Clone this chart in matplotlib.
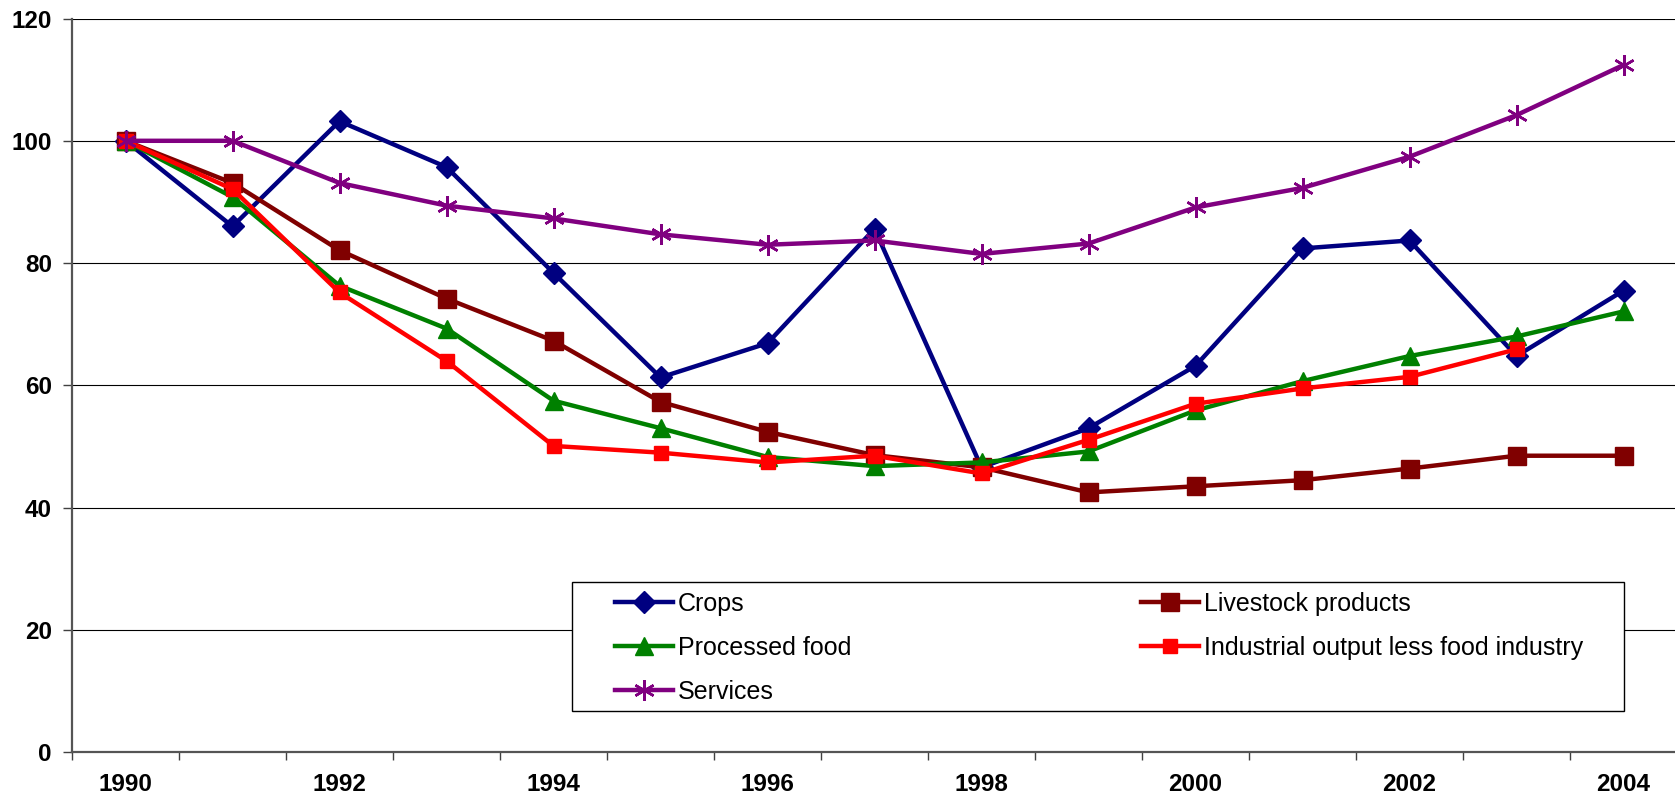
"""Indices of agricultural, food and industrial output against services, 1990 = 100."""
import numpy as np
from matplotlib import pyplot as plt
from matplotlib.patches import Rectangle

years = list(range(1990, 2005))

crops = [100, 86.0, 103.2, 95.7, 78.4, 61.3, 66.9, 85.6, 46.6, 53.0,
         63.2, 82.4, 83.7, 64.8, 75.5]
livestock = [100, 93.1, 82.1, 74.2, 67.3, 57.3, 52.4, 48.6, 46.6, 42.5,
             43.5, 44.5, 46.4, 48.5, 48.5]
processed_food = [100, 90.8, 76.3, 69.3, 57.5, 53.0, 48.3, 46.8, 47.4, 49.2,
                  55.9, 60.7, 64.8, 68.0, 72.1]
industrial = [100, 92.1, 75.2, 64.0, 50.1, 49.0, 47.4, 48.5, 45.6, 51.1,
              57.0, 59.5, 61.4, 65.9, np.nan]
services = [100, 100, 93.1, 89.4, 87.3, 84.7, 83.0, 83.7, 81.5, 83.2,
            89.1, 92.3, 97.4, 104.2, 112.4]

series_names = ["Crops", "Livestock products", "Processed food",
                "Industrial output less food industry", "Services"]

plt.rcParams['font.family'] = ['Liberation Sans', 'DejaVu Sans']

W, H = 1675, 798
fig = plt.figure(figsize=(W / 100, H / 100), dpi=100)
# axes box in pixels: x 72..1677, y 18.5..752.3 (from top)
ax = fig.add_axes([72 / W, (H - 752.3) / H, 1605 / W, (752.3 - 18.5) / H])

x = np.arange(len(years))
styles = [
    dict(color='#000080', marker='D', markersize=11),
    dict(color='#800000', marker='s', markersize=13),
    dict(color='#008000', marker='^', markersize=13.5),
    dict(color='#FF0000', marker='s', markersize=10),
    dict(color='#800080', marker=(6, 2, 0), markersize=15, markeredgewidth=1.8),
]
handles = []
for values, name, st in zip([crops, livestock, processed_food, industrial, services],
                            series_names, styles):
    line, = ax.plot(x, values, lw=3.2, label=name, clip_on=False,
                    markeredgecolor=st['color'], **st)
    handles.append(line)

ax.set_xlim(-0.5, 14.5)
ax.set_ylim(0, 120)
ax.set_yticks(np.arange(0, 121, 20))
ax.yaxis.grid(True, color='black', lw=0.8)
ax.set_axisbelow(True)

# category boundaries carry the tick marks, even years carry the labels
ax.set_xticks(np.arange(-0.5, 15, 1.0))
ax.set_xticklabels([])
ax.set_xticks(x[::2], minor=True)
ax.set_xticklabels([str(y) for y in years[::2]], minor=True)
ax.tick_params(axis='x', which='major', direction='out', length=6, width=1,
               color='#404040')
ax.tick_params(axis='x', which='minor', length=0, pad=15)
ax.tick_params(axis='y', direction='out', length=6.5, width=1, color='#404040',
               pad=8)
for lab in ax.get_xticklabels(minor=True) + ax.get_yticklabels():
    lab.set_fontsize(17.5)
    lab.set_fontweight('bold')

for side in ('top', 'right'):
    ax.spines[side].set_visible(False)
for side in ('left', 'bottom'):
    ax.spines[side].set_color('#555555')
    ax.spines[side].set_linewidth(1.6)

# legend frame drawn separately so the padding can differ per direction
frame = Rectangle((572 / W, (H - 711) / H), (1624 - 572) / W, (711 - 582) / H,
                  transform=fig.transFigure, facecolor='white',
                  edgecolor='black', lw=1.0, zorder=3)
fig.patches.append(frame)

order = [0, 2, 4, 1, 3]
fig.legend([handles[i] for i in order], [series_names[i] for i in order],
           ncol=2, mode='expand', loc='upper left',
           bbox_to_anchor=(615 / W, (H - 592) / H, (1583 - 615) / W, 0.0001),
           frameon=False, fontsize=18, borderpad=0, borderaxespad=0,
           handlelength=2.3, handletextpad=0.2, labelspacing=0.8)

fig.savefig('out.png', dpi=100)
